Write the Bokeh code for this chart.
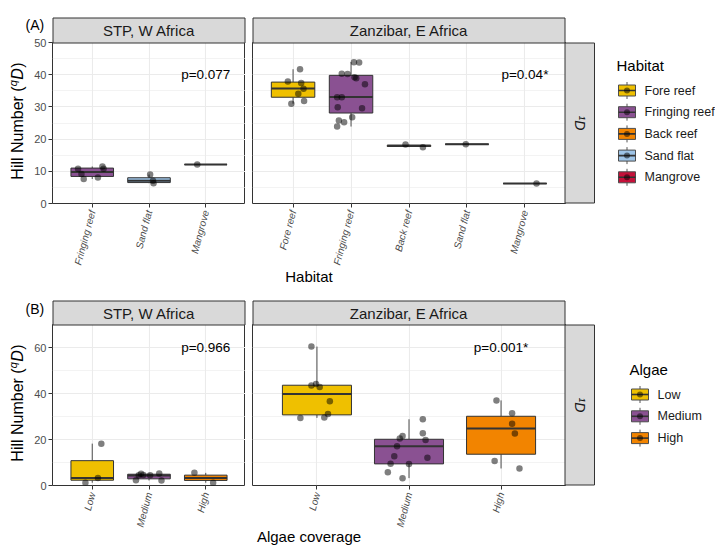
import numpy as np
from bokeh.plotting import figure
from bokeh.models import ColumnDataSource, FactorRange, Range1d, FixedTicker, GridBox
from bokeh.layouts import row, column
from bokeh.embed import file_html
from bokeh.resources import INLINE
from bokeh.core.properties import value

FONT = "Liberation Sans"

# ---------------- data ----------------
habitats = ["Fore reef", "Fringing reef", "Back reef", "Sand flat", "Mangrove"]
habitat_colors = ["#EFC000", "#8A5192", "#F28400", "#9DC3E6", "#C5113A"]
algae_levels = ["Low", "Medium", "High"]
algae_colors = ["#EFC000", "#8A5192", "#F28400"]

facet_titles = ["STP, W Africa", "Zanzibar, E Africa"]
row_strip = "\u00b9D"

# Panel A - STP, W Africa
A_stp_cats = ["Fringing reef", "Sand flat", "Mangrove"]
A_stp_lower = [7.6, 6.3, 12.1]
A_stp_q1 = [8.4, 6.5, 12.1]
A_stp_median = [9.8, 7.1, 12.1]
A_stp_q3 = [11.0, 8.0, 12.1]
A_stp_upper = [11.5, 9.0, 12.1]
A_stp_pt_cat = ["Fringing reef"] * 6 + ["Sand flat"] * 3 + ["Mangrove"]
A_stp_pt_val = [10.8, 9.2, 7.6, 8.1, 11.5, 10.8, 9.0, 7.1, 6.3, 12.1]
A_stp_pt_jit = [-0.25, -0.19, -0.15, 0.10, 0.18, 0.20, 0.02, 0.07, 0.08, -0.15]

# Panel A - Zanzibar, E Africa
A_zan_cats = ["Fore reef", "Fringing reef", "Back reef", "Sand flat", "Mangrove"]
A_zan_lower = [31.0, 23.9, 17.5, 18.4, 6.2]
A_zan_q1 = [33.0, 28.1, 17.7, 18.4, 6.2]
A_zan_median = [35.7, 33.1, 17.9, 18.4, 6.2]
A_zan_q3 = [37.7, 39.8, 18.1, 18.4, 6.2]
A_zan_upper = [41.7, 43.9, 18.3, 18.4, 6.2]
A_zan_pt_cat = (["Fore reef"] * 7 + ["Fringing reef"] * 15 + ["Back reef"] * 2
                + ["Sand flat"] + ["Mangrove"])
A_zan_pt_val = [41.7, 37.9, 37.4, 35.6, 34.1, 31.0, 31.8,
                43.9, 43.8, 40.3, 40.2, 39.2, 38.9, 37.0, 33.0, 33.0, 29.9, 29.6,
                26.8, 25.8, 25.2, 23.9,
                18.3, 17.5, 18.4, 6.2]
A_zan_pt_jit = [0.12, -0.09, 0.14, 0.18, 0.09, -0.03, 0.19,
                0.05, 0.14, -0.16, -0.06, 0.06, 0.09, 0.24, -0.24, -0.16, -0.23, 0.19,
                0.02, -0.21, -0.12, -0.24,
                -0.06, 0.24, -0.02, 0.20]

# Panel B - STP, W Africa
B_stp_cats = ["Low", "Medium", "High"]
B_stp_lower = [1.2, 2.2, 1.2]
B_stp_q1 = [2.3, 2.9, 2.2]
B_stp_median = [3.3, 4.3, 3.3]
B_stp_q3 = [10.8, 4.9, 4.5]
B_stp_upper = [18.2, 5.2, 5.5]
B_stp_pt_cat = ["Low"] * 3 + ["Medium"] * 7 + ["High"] * 2
B_stp_pt_val = [1.2, 3.3, 18.2, 2.3, 4.5, 5.1, 4.6, 4.5, 5.2, 2.2, 5.5, 1.2]
B_stp_pt_jit = [-0.12, 0.10, 0.16, -0.23, -0.18, -0.14, -0.10, 0.02, 0.18, 0.22, -0.20, 0.13]

# Panel B - Zanzibar, E Africa
B_zan_cats = ["Low", "Medium", "High"]
B_zan_lower = [29.4, 3.2, 7.4]
B_zan_q1 = [30.7, 9.4, 13.6]
B_zan_median = [39.8, 17.1, 24.8]
B_zan_q3 = [43.6, 20.1, 30.1]
B_zan_upper = [60.4, 28.8, 37.0]
B_zan_pt_cat = ["Low"] * 8 + ["Medium"] * 12 + ["High"] * 6
B_zan_pt_val = [60.4, 43.5, 44.1, 42.8, 36.6, 31.1, 29.6, 29.4,
                28.8, 22.7, 21.5, 20.4, 19.8, 17.1, 12.7, 12.1, 9.5, 9.4, 5.8, 3.2,
                37.0, 31.4, 26.8, 22.6, 10.6, 7.4]
B_zan_pt_jit = [-0.06, -0.06, -0.01, 0.03, 0.14, 0.12, 0.08, -0.18,
                0.15, 0.15, -0.07, -0.10, 0.18, -0.13, -0.16, 0.20, -0.20, 0.00, -0.23, -0.07,
                -0.05, 0.12, 0.12, 0.15, -0.07, 0.20]

A_pvals = ["p=0.077", "p=0.04*"]
A_p_y = 40
B_pvals = ["p=0.966", "p=0.001*"]
B_p_y = 60

A_ymax, A_ymajor, A_yminor = 50, [0, 10, 20, 30, 40, 50], [5, 15, 25, 35, 45]
B_ymax, B_ymajor, B_yminor = 70, [0, 20, 40, 60], [10, 30, 50, 70]

# ---------------- layout constants (pixels) ----------------
W, H = 715, 545
L_LEFT = 52                 # left facet frame left edge
LEFT_W = 193
GAP = 7
R_LEFT = L_LEFT + LEFT_W + GAP   # 252
RIGHT_W = 313
SIDE_W = W - R_LEFT - RIGHT_W    # 150
FRAME_H = 161
A_TOP, A_BOTTOM = 42, 87
B_TOP, B_BOTTOM = 34, 60
BOX_W = 0.75
STRIP_C = "#D9D9D9"
EDGE_C = "#333333"


def color_of(cat):
    if cat in habitats:
        return habitat_colors[habitats.index(cat)]
    return algae_colors[algae_levels.index(cat)]


def build_facet(cats, lower, q1, med, q3, upper, pt_cat, pt_val, pt_jit,
                ymax, ymajor, yminor, frame_w, bl, bt, br, bb, with_y, ptext, py):
    p = figure(x_range=FactorRange(factors=cats, range_padding=0.2,
                                   range_padding_units="absolute"),
               y_range=Range1d(0, ymax),
               width=bl + frame_w + br, height=bt + FRAME_H + bb,
               frame_width=frame_w, frame_height=FRAME_H, frame_align=False,
               min_border_left=bl, min_border_right=br,
               min_border_top=bt, min_border_bottom=bb,
               y_axis_location="left" if with_y else None, title=None,
               output_backend="svg", toolbar_location=None, tools="")
    p.background_fill_color = "white"
    p.border_fill_color = "white"
    p.outline_line_color = EDGE_C
    p.outline_line_width = 1

    p.xgrid.grid_line_color = "#EBEBEB"
    p.xgrid.grid_line_width = 1.1
    p.ygrid.ticker = FixedTicker(ticks=ymajor, minor_ticks=yminor)
    p.ygrid.grid_line_color = "#EBEBEB"
    p.ygrid.grid_line_width = 1.1
    p.ygrid.minor_grid_line_color = "#EBEBEB"
    p.ygrid.minor_grid_line_width = 0.6

    for ax in p.axis:
        ax.axis_line_color = None
        ax.major_tick_line_color = EDGE_C
        ax.major_tick_out = 4
        ax.major_tick_in = 0
        ax.minor_tick_line_color = None
        ax.major_label_text_font = FONT
        ax.major_label_text_color = "#4D4D4D"
    xa = p.xaxis[0]
    xa.major_label_orientation = np.deg2rad(75)
    xa.major_label_text_font_style = "italic"
    xa.major_label_text_font_size = "10px"
    xa.major_label_standoff = 3
    if with_y:
        ya = p.yaxis[0]
        ya.ticker = FixedTicker(ticks=ymajor)
        ya.major_label_text_font_size = "11px"
        ya.major_label_standoff = 2

    half = BOX_W / 2
    box_src = ColumnDataSource(dict(
        cat=cats, lower=lower, q1=q1, med=med, q3=q3, upper=upper,
        color=[color_of(c) for c in cats],
        left=[(c, -half) for c in cats], right=[(c, half) for c in cats]))
    p.segment(x0="cat", y0="q3", x1="cat", y1="upper", source=box_src,
              line_color="#4D4D4D", line_width=1)
    p.segment(x0="cat", y0="lower", x1="cat", y1="q1", source=box_src,
              line_color="#4D4D4D", line_width=1)
    p.vbar(x="cat", bottom="q1", top="q3", width=BOX_W, source=box_src,
           fill_color="color", line_color=EDGE_C, line_width=1)
    p.segment(x0="left", y0="med", x1="right", y1="med", source=box_src,
              line_color=EDGE_C, line_width=2)

    pts = ColumnDataSource(dict(x=[(c, j) for c, j in zip(pt_cat, pt_jit)], y=pt_val))
    p.scatter(x="x", y="y", source=pts, size=6.5, fill_color="black",
              fill_alpha=0.5, line_color=None)

    p.text(x=[cats[-1]], y=[py], text=[ptext], text_align="center",
           text_baseline="middle", text_font=value(FONT), text_font_size="13.5px",
           text_color="#000000")
    return p


# ---------------- facet figures ----------------
a_l = build_facet(A_stp_cats, A_stp_lower, A_stp_q1, A_stp_median, A_stp_q3, A_stp_upper,
                  A_stp_pt_cat, A_stp_pt_val, A_stp_pt_jit, A_ymax, A_ymajor, A_yminor,
                  LEFT_W, L_LEFT, A_TOP, 0, A_BOTTOM, True, A_pvals[0], A_p_y)
a_r = build_facet(A_zan_cats, A_zan_lower, A_zan_q1, A_zan_median, A_zan_q3, A_zan_upper,
                  A_zan_pt_cat, A_zan_pt_val, A_zan_pt_jit, A_ymax, A_ymajor, A_yminor,
                  RIGHT_W, GAP, A_TOP, SIDE_W, A_BOTTOM, False, A_pvals[1], A_p_y)
b_l = build_facet(B_stp_cats, B_stp_lower, B_stp_q1, B_stp_median, B_stp_q3, B_stp_upper,
                  B_stp_pt_cat, B_stp_pt_val, B_stp_pt_jit, B_ymax, B_ymajor, B_yminor,
                  LEFT_W, L_LEFT, B_TOP, 0, B_BOTTOM, True, B_pvals[0], B_p_y)
b_r = build_facet(B_zan_cats, B_zan_lower, B_zan_q1, B_zan_median, B_zan_q3, B_zan_upper,
                  B_zan_pt_cat, B_zan_pt_val, B_zan_pt_jit, B_ymax, B_ymajor, B_yminor,
                  RIGHT_W, GAP, B_TOP, SIDE_W, B_BOTTOM, False, B_pvals[1], B_p_y)
main = column(row(a_l, a_r, spacing=0), row(b_l, b_r, spacing=0), spacing=0)

# ---------------- transparent overlay for strips, titles and legends ----------------
ov = figure(width=W, height=H, frame_width=W, frame_height=H, frame_align=False,
            x_range=Range1d(0, W), y_range=Range1d(0, H),
            min_border_left=0, min_border_right=0, min_border_top=0, min_border_bottom=0,
            x_axis_location=None, y_axis_location=None, title=None,
            output_backend="svg", toolbar_location=None, tools="")
ov.grid.visible = False
ov.outline_line_color = None
ov.background_fill_alpha = 0
ov.border_fill_alpha = 0


def otext(x, y, text, size, color="#000000", align="left", angle=0.0, style="normal"):
    # x, y in page pixels from the top-left corner; y is the text's visual middle
    ov.text(x=[x], y=[H - y], text=[text], text_font=value(FONT),
            text_font_size=f"{size}px", text_color=color, text_align=align,
            text_baseline="middle", angle=angle, text_font_style=style)


def obox(l, t, r, b, fill, line=None, lw=1.0, alpha=1.0):
    ov.quad(left=[l], right=[r], top=[H - t], bottom=[H - b],
            fill_color=fill, fill_alpha=alpha, line_color=line, line_width=lw)


def ytitle(y_center):
    size = 16
    # (text, font size, style, x of the text's middle line, advance along the text)
    parts = [("Hill Number (", size, "normal", 17.4, 5.833 * size),
             ("q", 11, "italic", 12.2, 0.556 * 11 + 0.5),
             ("D", size, "italic", 17.4, 0.722 * size + 0.5),
             (")", size, "normal", 17.4, 0.333 * size)]
    total = sum(w for *_, w in parts)
    y = y_center + total / 2
    for text, s, st, xm, w in parts:
        otext(xm, y, text, s, align="left", angle=np.pi / 2, style=st)
        y -= w


def panel_deco(tag, tag_y, strip_top, frame_top, legend_title, title_x, title_y,
               labels, colors, kx, ky0, dy, lx, xtitle, xtitle_y, ytitle_c):
    frame_bot = frame_top + FRAME_H
    otext(25, tag_y, tag, 14)
    for xs, fw, title in [(L_LEFT, LEFT_W, facet_titles[0]),
                          (R_LEFT, RIGHT_W, facet_titles[1])]:
        obox(xs + 0.5, strip_top + 0.5, xs + fw - 0.5, frame_top + 0.5, STRIP_C, line=EDGE_C)
        otext(xs + fw / 2, (strip_top + frame_top) / 2 + 0.5, title, 15,
              color="#1A1A1A", align="center")
    rs = R_LEFT + RIGHT_W
    obox(rs - 0.5, frame_top + 0.5, rs + 29, frame_bot - 0.5, STRIP_C, line=EDGE_C)
    otext(rs + 14.5, (frame_top + frame_bot) / 2, row_strip, 14, color="#1A1A1A",
          align="center", angle=-np.pi / 2, style="italic")
    # legend
    otext(title_x, title_y, legend_title, 15)
    for i, (lab, col) in enumerate(zip(labels, colors)):
        ky = ky0 + i * dy
        ov.segment(x0=[kx], x1=[kx], y0=[H - (ky - 8.5)], y1=[H - (ky + 8.5)],
                   line_color="#555555", line_width=1)
        obox(kx - 8.5, ky - 5.5, kx + 8.5, ky + 5.5, col, line="#4D4D4D")
        ov.segment(x0=[kx - 8.5], x1=[kx + 8.5], y0=[H - ky], y1=[H - ky],
                   line_color=EDGE_C, line_width=1.6)
        ov.scatter(x=[kx], y=[H - ky], size=6, fill_color="black", fill_alpha=0.5,
                   line_color=None)
        otext(lx, ky, lab, 12.5, color="#1A1A1A")
    # axis titles
    otext((L_LEFT + R_LEFT + RIGHT_W) / 2, xtitle_y, xtitle, 15, align="center")
    ytitle(ytitle_c)


a_frame_top = A_TOP
b_frame_top = A_TOP + FRAME_H + A_BOTTOM + B_TOP
panel_deco("(A)", 24.5, 17, a_frame_top, "Habitat", 616, 64.7, habitats, habitat_colors,
           626.5, 90, 21.7, 644, "Habitat", 275.6, a_frame_top + FRAME_H / 2 - 2)
panel_deco("(B)", 308, 300, b_frame_top, "Algae", 629, 369.4, algae_levels, algae_colors,
           639.5, 394, 21.8, 657, "Algae coverage", 536, b_frame_top + FRAME_H / 2 - 2)

layout = GridBox(children=[(main, 0, 0), (ov, 0, 0)])

with open("out.html", "w") as f:
    f.write(file_html(layout, INLINE))
